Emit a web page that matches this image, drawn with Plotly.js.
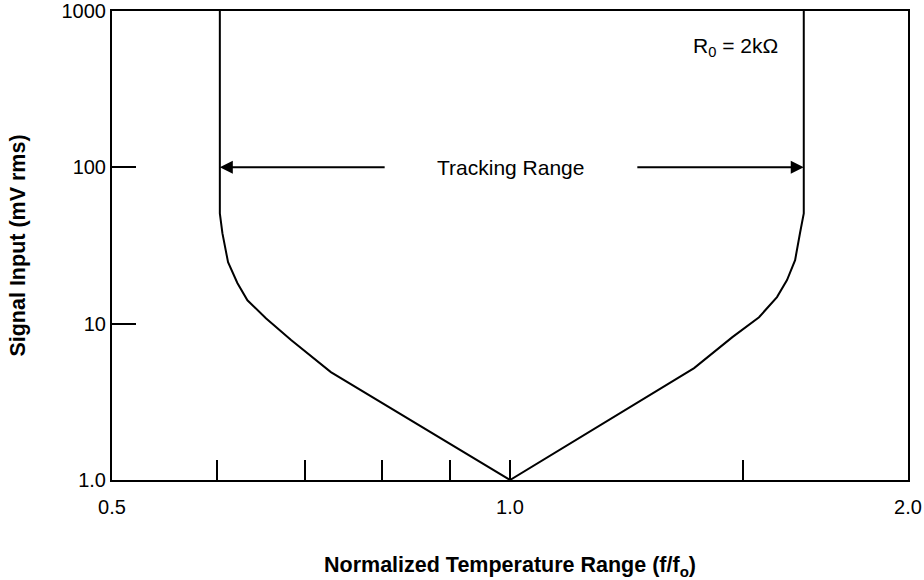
<!DOCTYPE html>
<html>
<head>
<meta charset="utf-8">
<script src="https://cdn.plot.ly/plotly-3.0.1.min.js"></script>
<style>html,body{margin:0;padding:0;background:#fff;}#chart{width:924px;height:580px;}</style>
</head>
<body>
<div id="chart"></div>
<script>
// Curve: normalized frequency (f/fo) vs signal input (mV rms)
const freqRatio = [0.6033, 0.6033, 0.606, 0.612, 0.622, 0.633, 0.654, 0.683, 0.732, 1.0,
                   1.378, 1.473, 1.543, 1.592, 1.620, 1.643, 1.657, 1.668, 1.668];
const signalMv  = [1000, 50.8, 37.9, 24.7, 18.2, 14.1, 10.8, 7.85, 4.90, 1.0,
                   5.20, 8.20, 11.0, 14.8, 19.0, 25.5, 37.9, 50.8, 1000];

// Tracking range arrows
const trackingLow = 0.6033;
const trackingHigh = 1.668;
const trackingLevel = 100;
const arrowTailLow = 0.806;
const arrowTailHigh = 1.245;

// Axis ticks
const xTickVals = [0.5, 0.6, 0.7, 0.8, 0.9, 1.0, 1.5, 2.0];
const xTickText = ['0.5', '', '', '', '', '1.0', '', '2.0'];
const yTickVals = [1, 10, 100, 1000];
const yTickText = ['1.0', '10', '100', '1000'];

const FONT = 'Liberation Sans, Arial, Helvetica, sans-serif';
const lg = Math.log10;

const trace = {
  x: freqRatio, y: signalMv, type: 'scatter', mode: 'lines',
  line: {color: '#000', width: 2}, hoverinfo: 'skip', showlegend: false
};

const arrowCommon = {
  text: '', showarrow: true, arrowhead: 2, arrowsize: 1.3, arrowwidth: 2,
  arrowcolor: '#000', xref: 'x', yref: 'y', axref: 'x', ayref: 'y'
};

const layout = {
  width: 924, height: 580,
  margin: {l: 112, r: 16, t: 11, b: 100},
  paper_bgcolor: '#fff', plot_bgcolor: '#fff',
  font: {family: FONT, size: 20, color: '#000'},
  xaxis: {
    type: 'log', range: [lg(0.5), lg(2.0)],
    tickmode: 'array', tickvals: xTickVals, ticktext: xTickText,
    ticks: 'inside', ticklen: 20, tickwidth: 2, tickcolor: '#000',
    showline: true, linewidth: 2, linecolor: '#000', mirror: true,
    showgrid: false, zeroline: false,
    tickfont: {family: FONT, size: 20, color: '#000'},
    ticklabelstandoff: 8,
    title: {text: '<b>Normalized Temperature Range (f/f<sub>o</sub>)</b>',
            font: {family: FONT, size: 21.5, color: '#000'}, standoff: 42}
  },
  yaxis: {
    type: 'log', range: [0, 3],
    tickmode: 'array', tickvals: yTickVals, ticktext: yTickText,
    ticks: 'inside', ticklen: 24, tickwidth: 2, tickcolor: '#000',
    showline: true, linewidth: 2, linecolor: '#000', mirror: true,
    showgrid: false, zeroline: false,
    tickfont: {family: FONT, size: 20, color: '#000'},
    title: {text: '<b>Signal Input (mV rms)</b>',
            font: {family: FONT, size: 21.5, color: '#000'}, standoff: 30}
  },
  annotations: [
    Object.assign({}, arrowCommon, {x: lg(trackingLow), y: lg(trackingLevel),
                                    ax: lg(arrowTailLow), ay: lg(trackingLevel)}),
    Object.assign({}, arrowCommon, {x: lg(trackingHigh), y: lg(trackingLevel),
                                    ax: lg(arrowTailHigh), ay: lg(trackingLevel)}),
    {text: 'Tracking Range', x: lg(1.0), y: lg(trackingLevel), xref: 'x', yref: 'y',
     showarrow: false, font: {family: FONT, size: 21, color: '#000'}},
    {text: 'R<sub>0</sub> = 2kΩ', x: 0.839, y: 0.923, xref: 'paper', yref: 'paper',
     xanchor: 'right', yanchor: 'middle', showarrow: false,
     font: {family: FONT, size: 21, color: '#000'}}
  ]
};

Plotly.newPlot('chart', [trace], layout, {displayModeBar: false, staticPlot: true});
</script>
</body>
</html>
